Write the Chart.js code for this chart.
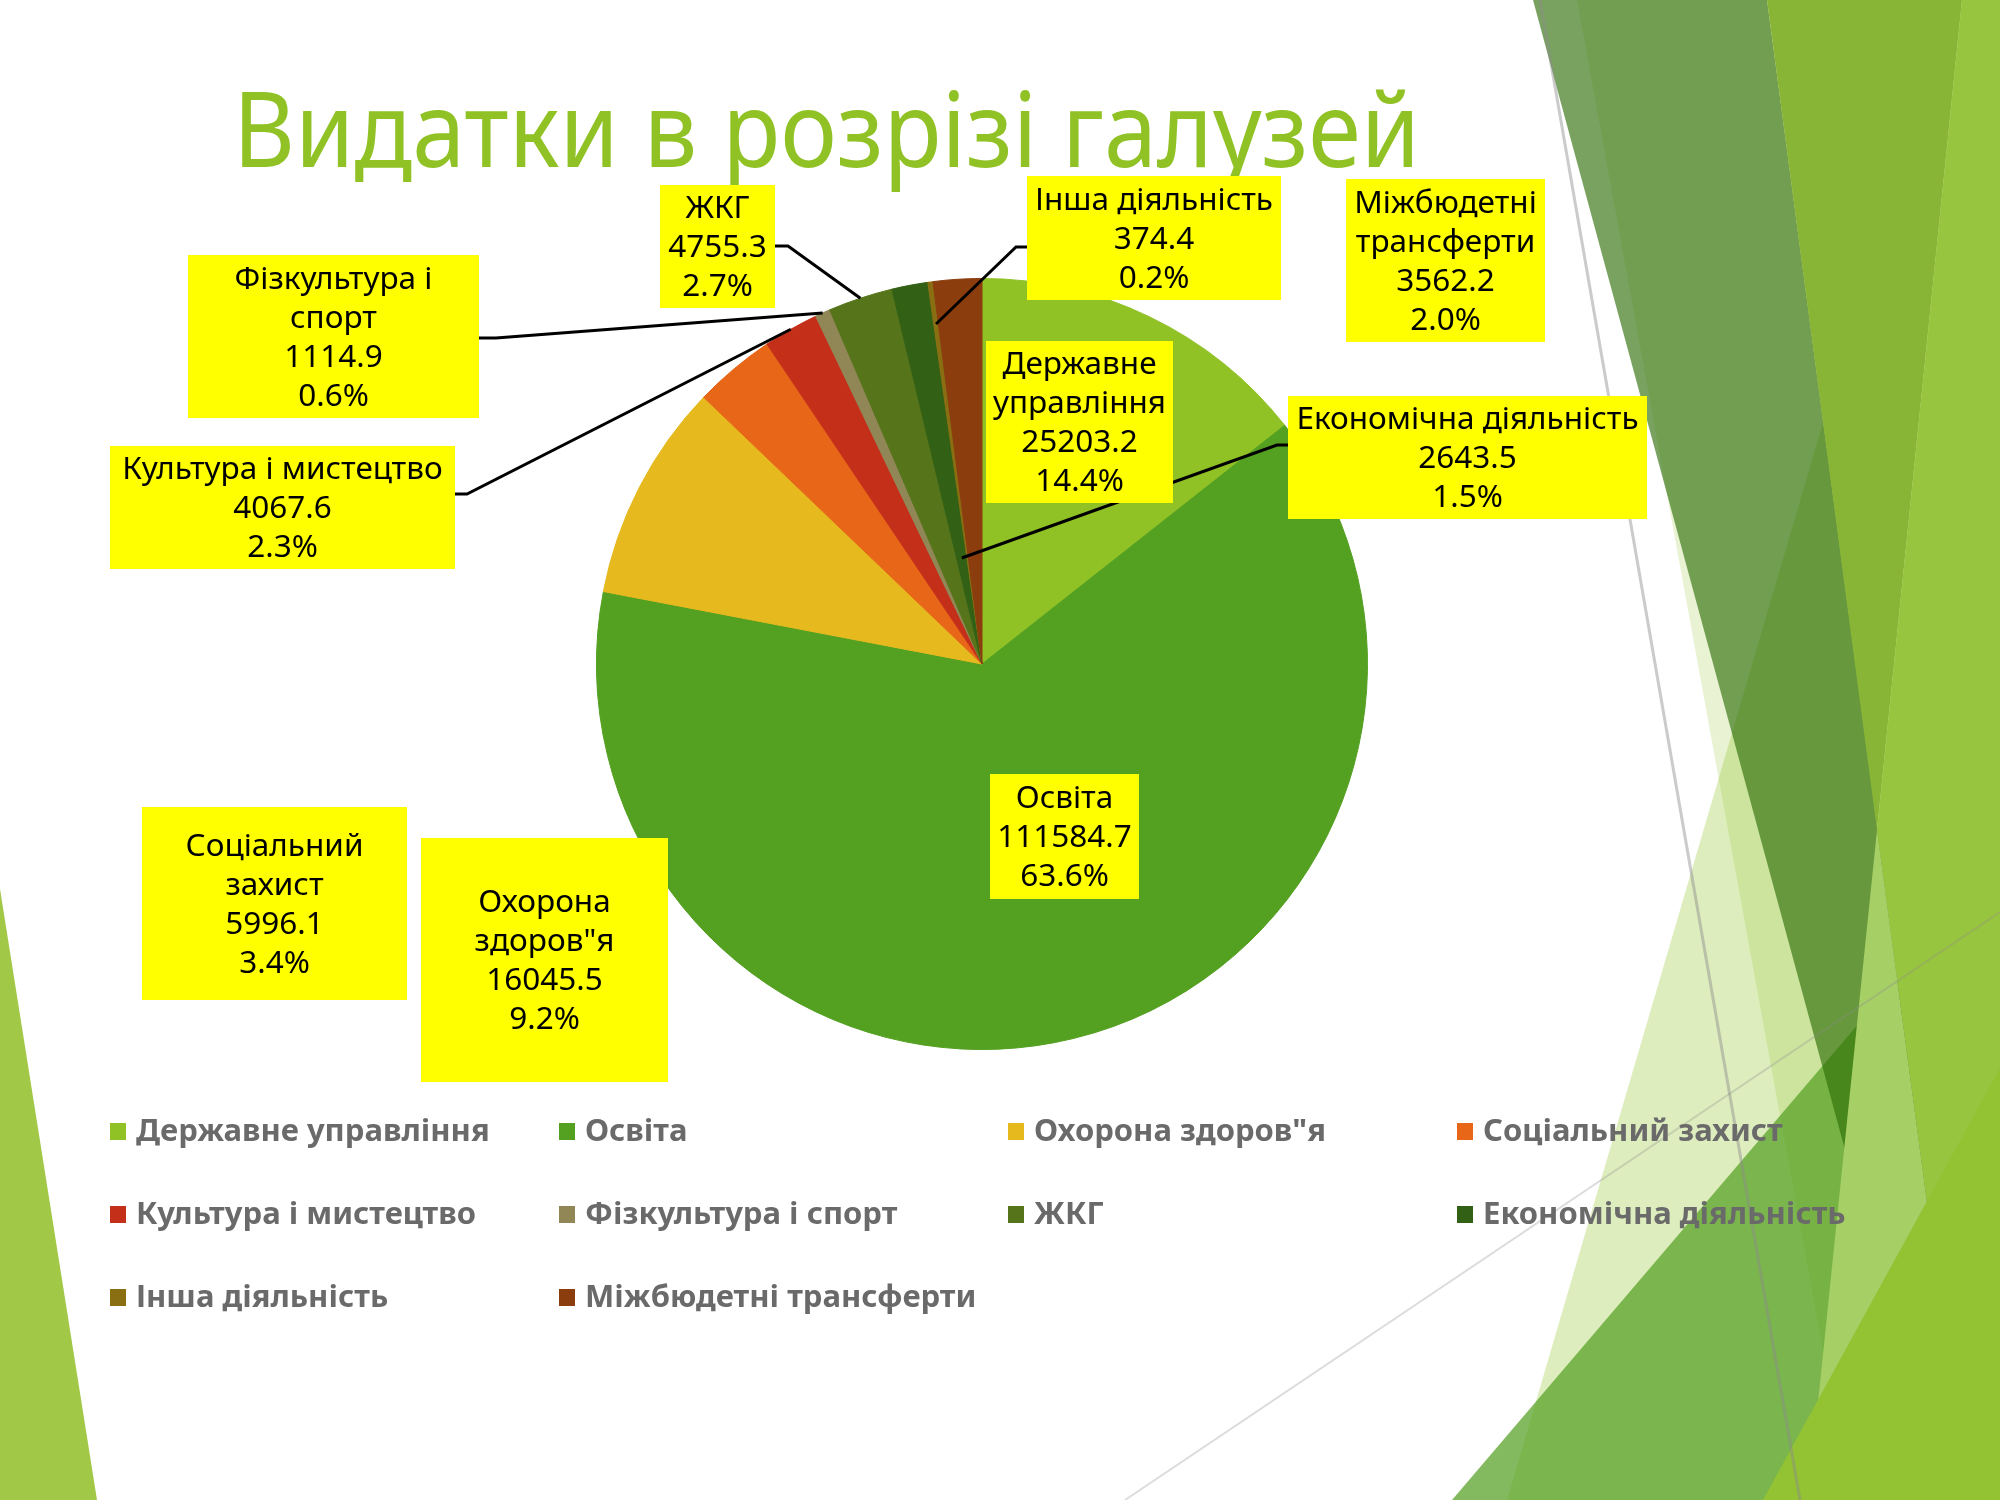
<!DOCTYPE html>
<html>
<head>
<meta charset="utf-8">
<title>Видатки в розрізі галузей</title>
<script src="https://cdn.jsdelivr.net/npm/chart.js@4.4.1/dist/chart.umd.min.js"></script>
<style>
    html, body { margin: 0; padding: 0; background: #fff; overflow: hidden; }
    #wrap { position: relative; width: 2000px; height: 1500px; }
    canvas { display: block; }
</style>
</head>
<body>
<div id="wrap"><canvas id="chart" width="2000" height="1500"></canvas></div>
<script>
// ---- data ----
const titleText = 'Видатки в розрізі галузей';
const categories = ['Державне управління', 'Освіта', 'Охорона здоров"я', 'Соціальний захист',
    'Культура і мистецтво', 'Фізкультура і спорт', 'ЖКГ', 'Економічна діяльність',
    'Інша діяльність', 'Міжбюдетні трансферти'];
const values = [25203.2, 111584.7, 16045.5, 5996.1, 4067.6, 1114.9, 4755.3, 2643.5, 374.4, 3562.2];
const colors = ['#90C226', '#54A021', '#E6B91E', '#E76618', '#C42F1A',
    '#918655', '#56741A', '#326014', '#8A6F12', '#8B3D0E'];

// ---- label layout (words on first line, 0 = one line) ----
const labelBreak = [1, 0, 1, 1, 0, 2, 0, 0, 0, 1];
// box: x, y, w, h
const labelBoxes = [
    [986, 341, 187, 162], [990, 774, 149, 125], [421, 838, 247, 244], [142, 807, 265, 193],
    [110, 446, 345, 123], [188, 255, 291, 163], [660, 185, 115, 123], [1288, 396, 359, 123],
    [1027, 176, 254, 124], [1346, 179, 199, 163]
];
// leader: start on box, elbow, radius fraction on slice
const leaders = {
    4: { from: [455, 494], elbow: [467, 494], r: 1.0 },
    5: { from: [479, 338], elbow: [496, 338], r: 1.0 },
    6: { from: [775, 246], elbow: [788, 246], r: 1.0 },
    7: { from: [1288, 445], elbow: [1277, 445], r: 0.28 },
    8: { from: [1027, 247], elbow: [1016, 247], r: 0.89 }
};
const legendCols = [110, 559, 1008, 1457];
const legendRows = [1131, 1214, 1297];

// slide decoration
const bgShapes = [
    { pts: [[1577, 0], [2000, 0], [2000, 1500], [1850, 1500]], fill: 'rgba(144,194,38,0.2)' },
    { pts: [[1947, 0], [2000, 0], [2000, 1500], [1507, 1500]], fill: 'rgba(144,194,38,0.3)' },
    { pts: [[1452, 1500], [2000, 858], [2000, 1500]], fill: 'rgba(84,160,33,0.72)' },
    { pts: [[1533, 0], [1767, 0], [1967, 1500], [1940, 1500]], fill: 'rgba(46,110,6,0.64)' },
    { pts: [[1767, 0], [1962, 0], [1877, 830]], fill: '#88B536' },
    { pts: [[1962, 0], [2000, 0], [2000, 1500], [1967, 1500], [1877, 830]], fill: '#98C53F' },
    { pts: [[1877, 830], [1967, 1500], [1808, 1500]], fill: '#A6CF66' },
    { pts: [[2000, 1068], [1763, 1500], [2000, 1500]], fill: '#93C233' },
    { pts: [[0, 889], [97, 1500], [0, 1500]], fill: '#A2C848' }
];
const bgLines = [
    { a: [1540, 0], b: [1800, 1500], color: 'rgba(140,140,140,0.45)', w: 3 },
    { a: [1125, 1500], b: [2000, 912], color: 'rgba(140,140,140,0.3)', w: 2 }
];

const total = values.reduce((s, v) => s + v, 0);

const backgroundPlugin = {
    id: 'slideBackground',
    beforeDraw(chart) {
        const ctx = chart.ctx;
        ctx.save();
        ctx.fillStyle = '#ffffff';
        ctx.fillRect(0, 0, chart.width, chart.height);
        bgShapes.forEach(s => {
            ctx.beginPath();
            s.pts.forEach((p, i) => i ? ctx.lineTo(p[0], p[1]) : ctx.moveTo(p[0], p[1]));
            ctx.closePath();
            ctx.fillStyle = s.fill;
            ctx.fill();
        });
        bgLines.forEach(l => {
            ctx.beginPath();
            ctx.moveTo(l.a[0], l.a[1]);
            ctx.lineTo(l.b[0], l.b[1]);
            ctx.strokeStyle = l.color;
            ctx.lineWidth = l.w;
            ctx.stroke();
        });
        // title
        ctx.font = '104px "Noto Sans"';
        ctx.fillStyle = '#90C226';
        ctx.textBaseline = 'alphabetic';
        ctx.textAlign = 'left';
        const w = ctx.measureText(titleText).width;
        ctx.translate(233, 167);
        ctx.scale(1187 / w, 1);
        ctx.fillText(titleText, 0, 0);
        ctx.restore();
    }
};

const labelPlugin = {
    id: 'sliceLabels',
    afterDatasetsDraw(chart) {
        const ctx = chart.ctx;
        const arcs = chart.getDatasetMeta(0).data;
        ctx.save();
        // leader lines
        ctx.strokeStyle = '#000000';
        ctx.lineWidth = 3;
        Object.keys(leaders).forEach(k => {
            const ld = leaders[k];
            const a = arcs[k].getProps(['x', 'y', 'startAngle', 'endAngle', 'outerRadius'], true);
            const mid = (a.startAngle + a.endAngle) / 2;
            const px = a.x + Math.cos(mid) * a.outerRadius * ld.r;
            const py = a.y + Math.sin(mid) * a.outerRadius * ld.r;
            ctx.beginPath();
            ctx.moveTo(ld.from[0], ld.from[1]);
            ctx.lineTo(ld.elbow[0], ld.elbow[1]);
            ctx.lineTo(px, py);
            ctx.stroke();
        });
        // boxes
        ctx.font = '31.5px "Noto Sans"';
        ctx.textAlign = 'center';
        ctx.textBaseline = 'middle';
        categories.forEach((name, i) => {
            const b = labelBoxes[i];
            ctx.fillStyle = '#FFFF00';
            ctx.fillRect(b[0], b[1], b[2], b[3]);
            const words = name.split(' ');
            let lines = [name];
            if (labelBreak[i]) {
                lines = [words.slice(0, labelBreak[i]).join(' '), words.slice(labelBreak[i]).join(' ')];
            }
            lines.push(values[i].toFixed(1));
            lines.push((values[i] / total * 100).toFixed(1) + '%');
            const lh = 39;
            const y0 = b[1] + b[3] / 2 - (lines.length - 1) * lh / 2 + 2;
            ctx.fillStyle = '#000000';
            lines.forEach((t, j) => ctx.fillText(t, b[0] + b[2] / 2, y0 + j * lh));
        });
        ctx.restore();
    }
};

const legendPlugin = {
    id: 'gridLegend',
    afterDraw(chart) {
        const ctx = chart.ctx;
        ctx.save();
        ctx.font = 'bold 31px "Noto Sans"';
        ctx.textAlign = 'left';
        ctx.textBaseline = 'middle';
        chart.data.labels.forEach((name, i) => {
            const x = legendCols[i % 4];
            const y = legendRows[Math.floor(i / 4)];
            ctx.fillStyle = chart.data.datasets[0].backgroundColor[i];
            ctx.fillRect(x, y - 8, 16, 17);
            ctx.fillStyle = '#6A6A6A';
            ctx.fillText(name, x + 26, y + 1);
        });
        ctx.restore();
    }
};

new Chart(document.getElementById('chart'), {
    type: 'pie',
    data: {
        labels: categories,
        datasets: [{
            data: values,
            backgroundColor: colors,
            borderColor: colors,
            borderWidth: 1
        }]
    },
    options: {
        responsive: false,
        devicePixelRatio: 1,
        animation: false,
        events: [],
        layout: { padding: { left: 596, right: 632, top: 278, bottom: 450 } },
        plugins: {
            legend: { display: false },
            tooltip: { enabled: false },
            title: { display: false }
        }
    },
    plugins: [backgroundPlugin, labelPlugin, legendPlugin]
});
</script>
</body>
</html>
